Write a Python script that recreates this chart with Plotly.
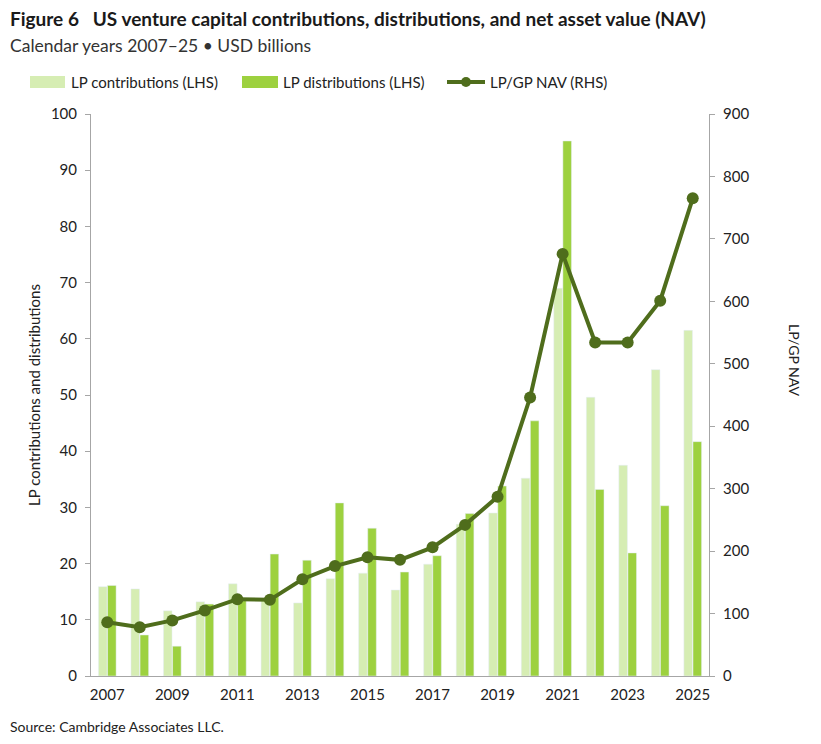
import plotly.graph_objects as go

years = [str(y) for y in range(2007, 2026)]
contributions = [15.9, 15.5, 11.6, 13.2, 16.4, 13.7, 13.0, 17.3, 18.3, 15.3, 19.9, 27.0, 29.0, 35.2, 69.0, 49.6, 37.5, 54.5, 61.5]
distributions = [16.1, 7.3, 5.3, 12.8, 13.5, 21.7, 20.6, 30.8, 26.3, 18.5, 21.4, 28.9, 33.8, 45.4, 95.2, 33.2, 21.9, 30.3, 41.7]
nav = [86, 78, 89, 105, 123, 122, 155, 176, 190, 186, 206, 242, 287, 446, 676, 534, 534, 601, 765]
tick_years = [str(y) for y in range(2007, 2026, 2)]

C_LIGHT = "#d6edb3"
C_MID = "#9dd13f"
C_DARK = "#4f6d1c"
AX = "#a6a6a6"
FONT = "Lato"

W, H = 821, 744
L, R, T, B = 91, 709, 114, 676

def px(x):
    return (x - L) / (R - L)

def py(y):
    return (B - y) / (B - T)

fig = go.Figure()
fig.add_bar(x=years, y=contributions, name="LP contributions (LHS)", marker_color=C_LIGHT, showlegend=False)
fig.add_bar(x=years, y=distributions, name="LP distributions (LHS)", marker_color=C_MID, showlegend=False)
fig.add_scatter(x=years, y=nav, name="LP/GP NAV (RHS)", yaxis="y2", mode="lines+markers",
                line=dict(color=C_DARK, width=4), marker=dict(color=C_DARK, size=12), showlegend=False)

fig.update_layout(
    width=W, height=H,
    margin=dict(l=L, r=W - R, t=T, b=H - B, pad=0),
    plot_bgcolor="white", paper_bgcolor="white",
    font=dict(family=FONT, size=14, color="#222222"),
    barmode="group", bargap=0.44, bargroupgap=0.06,
    xaxis=dict(type="category", range=[-0.5, len(years) - 0.5], tickvals=tick_years, ticktext=tick_years,
               showline=True, linecolor=AX, automargin=False,
               linewidth=1, ticks="", showgrid=False, tickfont=dict(size=15), ticklabelstandoff=5),
    yaxis=dict(range=[0, 100], dtick=10, showline=True, linecolor=AX, linewidth=1, ticks="outside",
               ticklen=5, tickcolor=AX, showgrid=False, zeroline=False, tickfont=dict(size=15), automargin=False,
               ticklabelstandoff=5,
               title=dict(text="LP contributions and distributions", font=dict(size=15), standoff=6)),
    yaxis2=dict(range=[0, 900], dtick=100, overlaying="y", side="right", showline=True, linecolor=AX,
                linewidth=1, ticks="outside", ticklen=5, tickcolor=AX, showgrid=False, zeroline=False,
                tickfont=dict(size=15), automargin=False, ticklabelstandoff=5),
)

ann = []
ann.append(dict(text="<b>Figure 6   US venture capital contributions, distributions, and net asset value (NAV)</b>",
                x=px(8), y=py(19), xref="paper", yref="paper", xanchor="left", yanchor="middle",
                font=dict(size=19, color="#1a1a1a"), showarrow=False))
ann.append(dict(text="Calendar years 2007–25 • USD billions",
                x=px(8), y=py(46), xref="paper", yref="paper", xanchor="left", yanchor="middle",
                font=dict(size=17.5, color="#333333"), showarrow=False))
ann.append(dict(text="Source: Cambridge Associates LLC.", x=px(8), y=py(726), xref="paper", yref="paper",
                xanchor="left", yanchor="middle", font=dict(size=14), showarrow=False))
ann.append(dict(text="LP/GP NAV", x=px(795), y=py(360), xref="paper", yref="paper", textangle=90,
                xanchor="center", yanchor="middle", font=dict(size=14), showarrow=False))

shapes = []
# manual legend
legend_items = [
    (30, 65, 69, "bar", C_LIGHT, "LP contributions (LHS)"),
    (242, 278, 281, "bar", C_MID, "LP distributions (LHS)"),
    (447, 485, 488, "line", C_DARK, "LP/GP NAV (RHS)"),
]
LY = 82
for x0, x1, xt, kind, col, label in legend_items:
    if kind == "bar":
        shapes.append(dict(type="rect", xref="paper", yref="paper", x0=px(x0), x1=px(x1), y0=py(LY + 6), y1=py(LY - 6),
                           fillcolor=col, line=dict(width=0)))
    else:
        shapes.append(dict(type="line", xref="paper", yref="paper", x0=px(x0), x1=px(x1), y0=py(LY), y1=py(LY),
                           line=dict(color=col, width=4)))
        cx = (x0 + x1) / 2
        shapes.append(dict(type="circle", xref="paper", yref="paper", x0=px(cx - 5), x1=px(cx + 5),
                           y0=py(LY + 5), y1=py(LY - 5), fillcolor=col, line=dict(width=0)))
    ann.append(dict(text=label, x=px(xt), y=py(LY), xref="paper", yref="paper", xanchor="left", yanchor="middle",
                    font=dict(size=15), showarrow=False))

fig.update_layout(annotations=ann, shapes=shapes)
fig.write_html("out.html")
